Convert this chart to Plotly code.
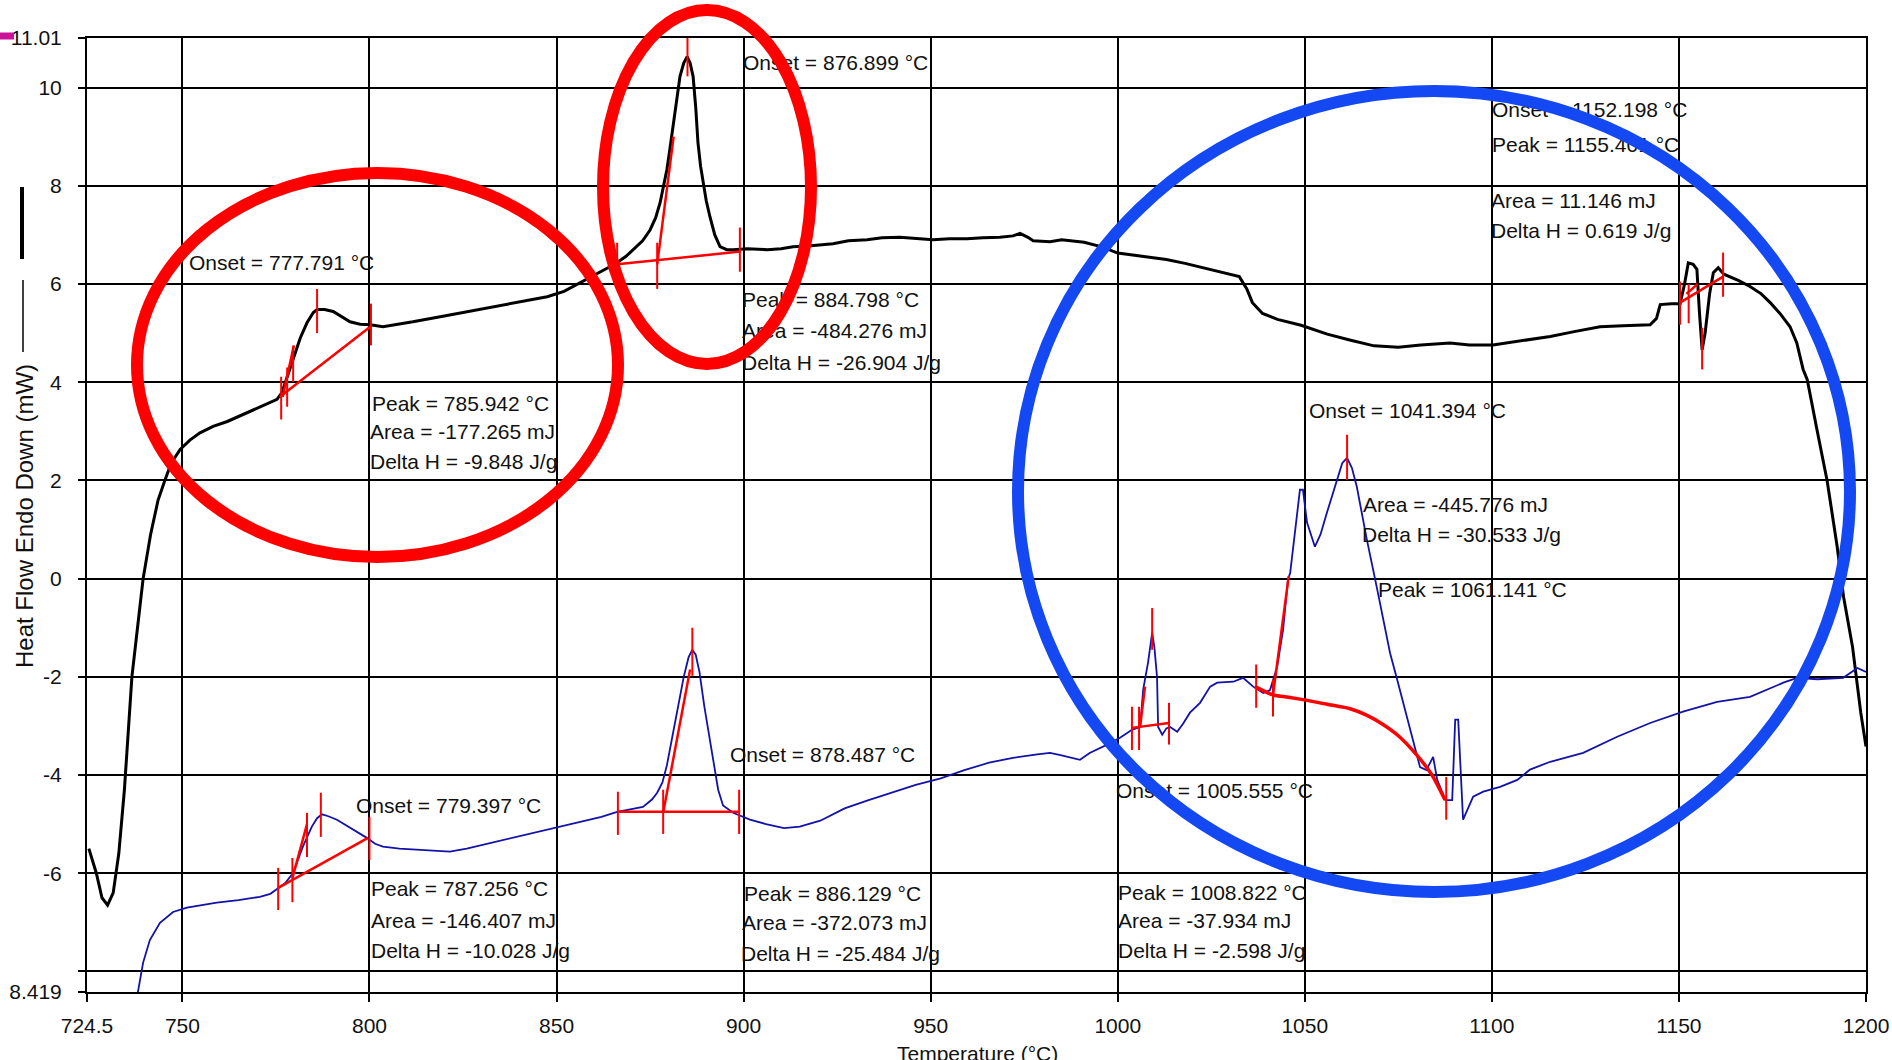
import plotly.graph_objects as go

# ---------------- data ----------------
black_t = [725.0, 727.0, 728.5, 730.0, 731.5, 733.0, 734.5, 736.5, 738.0, 739.5, 741.5, 743.5, 745.3, 747.0,
           749.4, 752.0, 754.7, 758.2, 762.0, 767.3, 771.0, 775.3, 776.6, 778.0, 779.6, 781.5, 783.3, 785.0,
           786.0, 788.0, 790.3, 792.5, 794.8, 797.5, 800.2, 803.6, 807.0, 811.6, 820.0, 829.5, 838.0, 847.5,
           852.0, 856.3, 859.2, 861.6, 864.0, 866.2, 868.5, 870.5, 873.0, 875.0, 876.5, 877.7, 878.7, 879.5,
           880.3, 881.1, 882.0, 883.0, 884.0, 884.9, 885.7, 886.5, 887.2, 887.8, 888.5, 889.2, 890.0, 891.0,
           892.3, 893.7, 895.5, 897.2, 901.0, 906.3, 910.0, 913.2, 918.0, 923.9, 928.0, 933.0, 937.0, 941.8,
           946.0, 950.6, 955.0, 959.7, 964.0, 968.5, 972.0, 973.9, 976.0, 977.4, 981.9, 985.0, 991.0, 996.0,
           1000.0, 1007.0, 1013.0, 1018.0, 1023.0, 1028.0, 1032.5, 1034.5, 1036.0, 1038.7, 1042.7, 1049.0,
           1056.0, 1062.0, 1068.5, 1075.0, 1081.0, 1088.8, 1094.0, 1100.3, 1108.0, 1115.6, 1122.0, 1128.9,
           1135.0, 1142.3, 1144.0, 1145.0, 1148.0, 1150.3, 1151.5, 1152.5, 1153.8, 1154.8, 1155.5, 1156.2,
           1157.0, 1158.2, 1159.2, 1160.5, 1162.0, 1163.7, 1166.0, 1169.0, 1172.0, 1174.4, 1177.0, 1179.7,
           1181.5, 1183.2, 1184.3, 1186.9, 1189.6, 1192.3, 1194.0, 1196.4, 1198.6, 1200.0]
black_y = [-5.5, -6.0, -6.5, -6.65, -6.4, -5.6, -4.3, -2.0, -1.0, 0.0, 0.9, 1.6, 2.0, 2.35,
           2.63, 2.82, 2.97, 3.1, 3.2, 3.38, 3.5, 3.65, 3.79, 4.1, 4.46, 4.9, 5.21, 5.42,
           5.48, 5.48, 5.44, 5.33, 5.23, 5.18, 5.17, 5.13, 5.17, 5.23, 5.35, 5.48, 5.6, 5.74,
           5.85, 6.02, 6.15, 6.23, 6.34, 6.44, 6.56, 6.7, 6.88, 7.1, 7.35, 7.66, 8.0, 8.33,
           8.75, 9.2, 9.75, 10.23, 10.5, 10.63, 10.5, 10.23, 9.6, 8.88, 8.4, 8.06, 7.7, 7.37,
           7.0, 6.76, 6.7, 6.7, 6.72, 6.7, 6.72, 6.76, 6.78, 6.82, 6.88, 6.9, 6.94, 6.95,
           6.92, 6.9, 6.92, 6.92, 6.94, 6.95, 6.98, 7.03, 6.95, 6.88, 6.86, 6.9, 6.85, 6.75,
           6.63, 6.56, 6.5, 6.42, 6.33, 6.24, 6.15, 5.9, 5.62, 5.4, 5.28, 5.16,
           4.98, 4.86, 4.74, 4.71, 4.76, 4.8, 4.76, 4.76, 4.85, 4.93, 5.03, 5.13,
           5.15, 5.17, 5.3, 5.58, 5.6, 5.6, 6.0, 6.43, 6.4, 6.3, 5.4, 4.66,
           5.0, 5.8, 6.23, 6.33, 6.2, 6.15, 6.07, 5.95, 5.8, 5.62, 5.4, 5.13,
           4.8, 4.26, 4.05, 3.03, 2.0, 0.65, -0.37, -1.39, -2.73, -3.42]

blue_t = [738.1, 739.5, 741.3, 744.0, 747.5, 751.2, 759.2, 765.0, 770.7, 773.5, 775.3, 777.5, 779.6, 781.0,
          782.2, 784.6, 786.0, 787.3, 789.0, 791.3, 794.8, 799.3, 801.5, 803.6, 808.0, 812.7, 817.0, 821.5,
          826.0, 830.4, 835.0, 839.4, 845.0, 850.1, 857.1, 862.0, 866.2, 870.0, 873.1, 875.5, 876.9, 878.3,
          879.5, 881.0, 882.5, 884.0, 885.3, 886.3, 887.2, 888.2, 889.5, 890.8, 892.0, 893.2, 894.5, 897.2,
          901.7, 906.0, 910.8, 915.0, 920.5, 924.0, 927.0, 933.0, 939.8, 946.0, 952.7, 959.0, 965.6, 972.0,
          978.5, 981.9, 985.0, 989.9, 992.5, 995.3, 998.0, 1000.6, 1003.8, 1006.0, 1006.8, 1008.1, 1009.2,
          1009.8, 1010.5, 1010.8, 1011.9, 1013.0, 1014.0, 1015.9, 1017.5, 1019.3, 1022.0, 1024.7, 1026.6,
          1030.9, 1033.5, 1036.2, 1038.9, 1040.7, 1042.6, 1044.2, 1045.5, 1046.1, 1047.4, 1048.7, 1049.5,
          1050.6, 1052.7, 1054.2, 1055.9, 1058.6, 1060.0, 1061.3, 1062.6, 1063.9, 1066.6, 1069.3, 1072.8,
          1074.7, 1078.2, 1080.8, 1082.5, 1084.3, 1085.4, 1087.6, 1089.4, 1090.2, 1091.0, 1092.3, 1095.0,
          1097.7, 1102.2, 1106.8, 1110.2, 1115.6, 1124.4, 1133.5, 1142.3, 1151.1, 1160.2, 1169.0, 1177.9,
          1181.6, 1187.0, 1193.9, 1197.7, 1200.0]
blue_y = [-8.42, -7.82, -7.36, -7.01, -6.79, -6.7, -6.6, -6.55, -6.48, -6.42, -6.32, -6.2, -5.99, -5.7,
          -5.46, -5.05, -4.88, -4.8, -4.84, -4.91, -5.07, -5.28, -5.4, -5.46, -5.5, -5.52, -5.55, -5.56,
          -5.5, -5.42, -5.34, -5.26, -5.16, -5.07, -4.95, -4.85, -4.75, -4.7, -4.65, -4.5, -4.36, -4.15,
          -3.8, -3.2, -2.6, -2.0, -1.6, -1.45, -1.55, -1.9, -2.6, -3.2, -3.8, -4.3, -4.62, -4.77,
          -4.91, -5.0, -5.08, -5.05, -4.93, -4.8, -4.68, -4.52, -4.36, -4.2, -4.07, -3.9, -3.75, -3.65,
          -3.58, -3.55, -3.6, -3.69, -3.55, -3.45, -3.35, -3.24, -3.08, -3.02, -2.26, -1.71, -1.1,
          -1.4, -2.0, -3.02, -3.18, -3.05, -3.02, -3.12, -2.95, -2.73, -2.53, -2.2, -2.12,
          -2.1, -2.02, -2.2, -2.33, -2.27, -1.8, -1.04, -0.02, 0.12, 0.99, 1.81, 1.81,
          1.14, 0.65, 0.9, 1.34, 2.01, 2.35, 2.46, 2.25, 1.87, 0.79, -0.2, -1.52,
          -2.06, -3.08, -3.84, -3.9, -3.63, -4.1, -4.51, -4.51, -2.87, -2.87, -4.91, -4.44,
          -4.34, -4.24, -4.1, -3.89, -3.73, -3.55, -3.22, -2.94, -2.71, -2.51, -2.41, -2.12,
          -2.02, -2.05, -2.02, -1.82, -1.9]

# red analysis markers: vertical limit / peak ticks
tick_t = [776.4, 778.0, 779.6, 786.0, 800.4, 866.2, 876.9, 885.0, 899.0, 1150.3, 1152.6, 1156.2, 1161.8,
          775.6, 779.4, 783.3, 787.0, 800.0, 866.4, 878.5, 886.3, 898.8, 1003.8, 1005.7, 1009.2, 1013.7,
          1037.0, 1041.5, 1061.3, 1087.8]
tick_y0 = [3.24, 3.5, 4.0, 5.0, 4.75, 6.15, 5.9, 10.23, 6.25, 5.17, 5.2, 4.26, 5.74,
           -6.75, -6.59, -5.67, -5.26, -5.73, -5.22, -5.2, -1.98, -5.2, -3.49, -3.49, -1.45, -3.38,
           -2.63, -2.81, 2.01, -4.91]
tick_y1 = [4.11, 4.3, 4.73, 5.9, 5.6, 6.84, 6.84, 11.04, 7.15, 6.05, 6.0, 5.11, 6.64,
           -5.89, -5.69, -4.77, -4.36, -4.85, -4.34, -4.3, -1.0, -4.3, -2.61, -2.61, -0.6, -2.53,
           -1.75, -2.06, 2.93, -4.04]

# red baselines and onset tangents
seg_t = [[776.0, 800.2], [776.8, 779.8], [866.2, 899.1], [876.9, 881.3], [1150.3, 1161.8], [1152.0, 1155.0],
         [775.6, 799.6], [779.4, 783.3], [866.2, 899.1], [878.6, 885.7], [1003.8, 1013.7], [1006.0, 1007.3],
         [1041.5, 1045.7]]
seg_y = [[3.7, 5.13], [3.7, 4.75], [6.4, 6.66], [6.4, 9.0], [5.62, 6.15], [5.8, 6.0],
         [-6.3, -5.28], [-6.1, -5.0], [-4.75, -4.75], [-4.73, -1.85], [-3.04, -2.94], [-3.0, -2.2],
         [-2.37, 0.05]]
curve_base_t = [1036.7, 1041.5, 1046.0, 1050.6, 1056.0, 1062.1, 1066.5, 1070.9, 1075.0, 1080.0, 1084.0, 1087.5]
curve_base_y = [-2.2, -2.37, -2.42, -2.48, -2.56, -2.65, -2.78, -2.97, -3.2, -3.6, -4.0, -4.51]

x_ticks = [724.5, 750, 800, 850, 900, 950, 1000, 1050, 1100, 1150, 1200]
x_labels = ["724.5", "750", "800", "850", "900", "950", "1000", "1050", "1100", "1150", "1200"]
y_ticks = [-8.419, -8, -6, -4, -2, 0, 2, 4, 6, 8, 10, 11.01]
y_labels = ["8.419", "", "-6", "-4", "-2", "0", "2", "4", "6", "8", "10", "11.01"]

# (text, left px, centre px) of analysis captions
captions = [
    ("Onset = 777.791 °C", 192, 265), ("Peak = 785.942 °C", 375, 406), ("Area = -177.265 mJ", 373, 434),
    ("Delta H = -9.848 J/g", 373, 464),
    ("Onset = 876.899 °C", 746, 65), ("Peak = 884.798 °C", 745, 302), ("Area = -484.276 mJ", 745, 333),
    ("Delta H = -26.904 J/g", 745, 365),
    ("Onset = 1152.198 °C", 1495, 112), ("Peak = 1155.401 °C", 1495, 147), ("Area = 11.146 mJ", 1494, 203),
    ("Delta H = 0.619 J/g", 1494, 233),
    ("Onset = 1041.394 °C", 1312, 413), ("Area = -445.776 mJ", 1366, 507), ("Delta H = -30.533 J/g", 1365, 537),
    ("Peak = 1061.141 °C", 1381, 592),
    ("Onset = 878.487 °C", 733, 757), ("Onset = 779.397 °C", 359, 808), ("Peak = 787.256 °C", 374, 891),
    ("Area = -146.407 mJ", 374, 923), ("Delta H = -10.028 J/g", 374, 953),
    ("Onset = 1005.555 °C", 1119, 793), ("Peak = 886.129 °C", 747, 896), ("Area = -372.073 mJ", 745, 925),
    ("Delta H = -25.484 J/g", 744, 956), ("Peak = 1008.822 °C", 1121, 895), ("Area = -37.934 mJ", 1121, 923),
    ("Delta H = -2.598 J/g", 1121, 953),
]

# ---------------- layout geometry ----------------
W, H = 1892, 1060
L, R, T, B = 87, 26, 38, 68
X0, X1 = 724.5, 1200.0
Y0, Y1 = -8.419, 11.01
PW, PH = W - L - R, H - T - B


def px2t(px):
    return X0 + (px - L) * (X1 - X0) / PW


def py2y(py):
    return Y1 - (py - T) * (Y1 - Y0) / PH


def pxp(px):
    return (px - L) / PW


def pyp(py):
    return (H - B - py) / PH


FONT = "Liberation Sans, Arial, sans-serif"

fig = go.Figure()

fig.add_trace(go.Scatter(x=black_t, y=black_y, mode="lines", line=dict(color="black", width=3),
                         hoverinfo="skip", showlegend=False))
fig.add_trace(go.Scatter(x=blue_t, y=blue_y, mode="lines", line=dict(color="#1212A8", width=1.8),
                         hoverinfo="skip", showlegend=False))

tx, ty = [], []
for t, a, b in zip(tick_t, tick_y0, tick_y1):
    tx += [t, t, None]
    ty += [a, b, None]
fig.add_trace(go.Scatter(x=tx, y=ty, mode="lines", line=dict(color="#FF0000", width=2),
                         hoverinfo="skip", showlegend=False))

sx, sy = [], []
for ts, ys in zip(seg_t, seg_y):
    sx += ts + [None]
    sy += ys + [None]
fig.add_trace(go.Scatter(x=sx, y=sy, mode="lines", line=dict(color="#FF0000", width=2.5),
                         hoverinfo="skip", showlegend=False))
fig.add_trace(go.Scatter(x=curve_base_t, y=curve_base_y, mode="lines",
                         line=dict(color="#FF0000", width=3.5, shape="spline", smoothing=0.6),
                         hoverinfo="skip", showlegend=False))

fig.add_trace(go.Scatter(
    x=[px2t(c[1] - 3) for c in captions], y=[py2y(c[2]) for c in captions],
    text=[c[0] for c in captions], mode="text", textposition="middle right",
    textfont=dict(family=FONT, size=21, color="#111111"), cliponaxis=False,
    hoverinfo="skip", showlegend=False))

shapes = []
# highlight ellipses drawn on top
for (x0, x1, y0, y1, col) in [(137, 618, 173, 557, "#FF0000"), (603, 811, 10, 364, "#FF0000"),
                              (1018, 1850, 91, 892, "#1448F2")]:
    shapes.append(dict(type="circle", xref="paper", yref="paper", x0=pxp(x0), x1=pxp(x1),
                       y0=pyp(y1), y1=pyp(y0), line=dict(color=col, width=12), layer="above"))
# legend bar / axis title decorations
shapes.append(dict(type="line", xref="paper", yref="paper", x0=pxp(22), x1=pxp(22), y0=pyp(187), y1=pyp(259),
                   line=dict(color="black", width=4)))
shapes.append(dict(type="line", xref="paper", yref="paper", x0=pxp(23), x1=pxp(23), y0=pyp(280), y1=pyp(352),
                   line=dict(color="black", width=1.5)))
shapes.append(dict(type="line", xref="paper", yref="paper", x0=pxp(0), x1=pxp(14), y0=pyp(36), y1=pyp(36),
                   line=dict(color="#CC1199", width=7)))

annotations = [
    dict(text="Heat Flow Endo Down (mW)", xref="paper", yref="paper", x=pxp(24), y=pyp(516),
         textangle=-90, showarrow=False, font=dict(family=FONT, size=24, color="#111111"),
         xanchor="center", yanchor="middle"),
    dict(text="Temperature (°C)", xref="paper", yref="paper", x=pxp(977), y=pyp(1053),
         showarrow=False, font=dict(family=FONT, size=21, color="#111111"),
         xanchor="center", yanchor="middle"),
]

axis_common = dict(showgrid=True, gridcolor="black", gridwidth=2, showline=True, linecolor="black",
                   linewidth=2, mirror=True, ticks="outside", tickcolor="black", tickwidth=2,
                   zeroline=False, automargin=False, tickfont=dict(family=FONT, size=21, color="#111111"))

fig.update_layout(
    width=W, height=H, margin=dict(l=L, r=R, t=T, b=B, autoexpand=False),
    plot_bgcolor="white", paper_bgcolor="white",
    xaxis=dict(range=[X0, X1], tickmode="array", tickvals=x_ticks, ticktext=x_labels, ticklen=8,
               ticklabelstandoff=6, **axis_common),
    yaxis=dict(range=[Y0, Y1], tickmode="array", tickvals=y_ticks, ticktext=y_labels, ticklen=7,
               ticklabelstandoff=12, **axis_common),
    shapes=shapes, annotations=annotations,
)

fig.write_html("out.html")
